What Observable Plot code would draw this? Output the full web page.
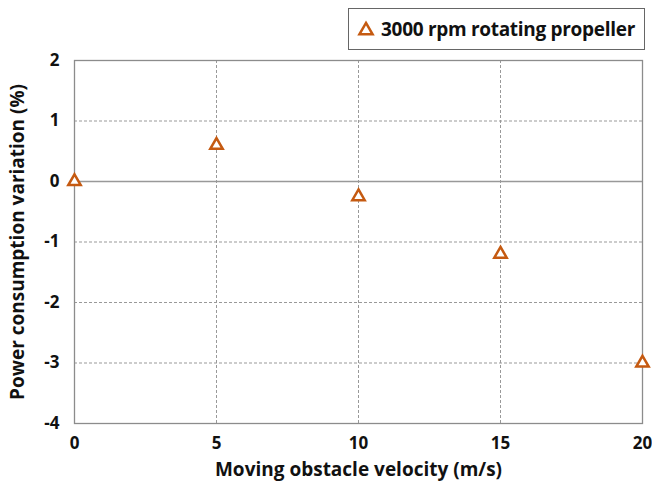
<!DOCTYPE html>
<html><head><meta charset="utf-8">
<script src="https://cdn.jsdelivr.net/npm/d3@7"></script>
<script src="https://cdn.jsdelivr.net/npm/@observablehq/plot@0.6"></script>
<style>
body{margin:0;background:#fff;font-family:"Open Sans",sans-serif;}
#wrap{position:relative;width:652px;height:487px;}
#legend{position:absolute;left:348px;top:8px;width:297px;height:42px;border:1.5px solid #666;box-sizing:border-box;background:#fff;display:flex;align-items:center;padding-left:8px;font-weight:bold;font-size:19px;color:#111;letter-spacing:-0.3px;}
#legend svg{margin-right:6px;}
</style></head>
<body><div id="wrap"><div id="legend"></div></div>
<script>
const velocity = [0, 5, 10, 15, 20];
const powerVariation = [0, 0.6, -0.25, -1.2, -3.0];
const xTicks = [0, 5, 10, 15, 20];
const yTicks = [-4, -3, -2, -1, 0, 1, 2];
const seriesName = "3000 rpm rotating propeller";
const markerColor = "#C55A11";

const data = velocity.map((v, i) => ({v, p: powerVariation[i]}));

const chart = Plot.plot({
  width: 652, height: 487,
  marginLeft: 74, marginRight: 10, marginTop: 60, marginBottom: 64,
  style: {fontFamily: "'Open Sans', sans-serif", fontWeight: "bold", fontSize: "16px", color: "#111"},
  x: {domain: [0, 20]},
  y: {domain: [-4, 2]},
  marks: [
    Plot.gridX(xTicks.slice(1, -1), {stroke: "#999", strokeOpacity: 1, strokeDasharray: "3,2", strokeWidth: 1}),
    Plot.gridY(yTicks.filter(d => d !== 0 && d !== -4 && d !== 2), {stroke: "#999", strokeOpacity: 1, strokeDasharray: "3,2", strokeWidth: 1}),
    Plot.ruleY([0], {stroke: "#999", strokeWidth: 1.3}),
    Plot.frame({stroke: "#8c8c8c", strokeWidth: 1.3}),
    Plot.axisX(xTicks, {tickSize: 0, tickPadding: 13, fontSize: 16, fontWeight: "bold", tickFormat: d => String(d),
      label: "Moving obstacle velocity (m/s)", labelAnchor: "center", labelArrow: "none", labelOffset: 52}),
    Plot.axisY(yTicks, {tickSize: 0, tickPadding: 15, fontSize: 16, fontWeight: "bold", tickFormat: d => String(d),
      label: "Power consumption variation (%)", labelAnchor: "center", labelArrow: "none", labelOffset: 64}),
    Plot.dot(data, {x: "v", y: "p", symbol: "triangle", r: 4.6, stroke: markerColor, strokeWidth: 2.5, fill: "white"})
  ]
});
chart.querySelectorAll('[aria-label="x-axis label"], [aria-label="y-axis label"]').forEach(g => {
  g.style.fontSize = "19px"; g.setAttribute("font-size", "19px");
  g.querySelectorAll("text").forEach(t => { t.style.fontSize = "19px"; });
});
chart.querySelectorAll('[aria-label="x-axis tick label"], [aria-label="y-axis tick label"]').forEach(g => {
  g.style.fontSize = "17px"; g.setAttribute("font-size", "17px");
  g.querySelectorAll("text").forEach(t => { t.style.fontSize = "17px"; });
});
document.getElementById("wrap").prepend(chart);

const leg = document.getElementById("legend");
leg.innerHTML = `<svg width="18" height="18" viewBox="-9 -9 18 18"><path d="${d3.symbol(d3.symbolTriangle, 75)()}" transform="translate(0,1.5)" fill="white" stroke="${markerColor}" stroke-width="2.5"/></svg><span>${seriesName}</span>`;
</script></body></html>
